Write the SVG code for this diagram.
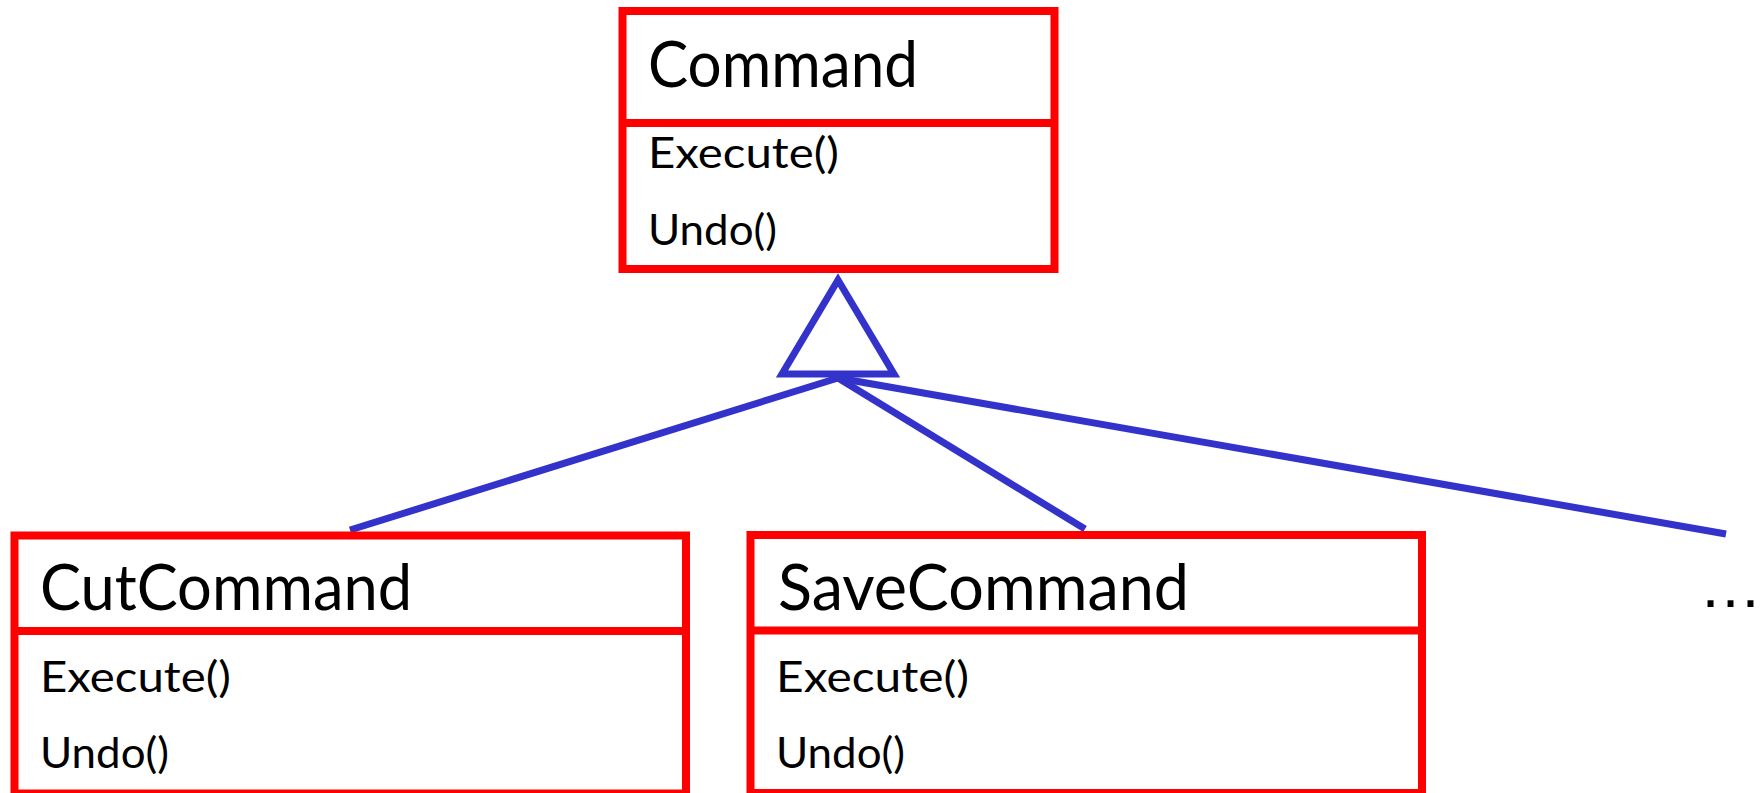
<svg xmlns="http://www.w3.org/2000/svg" width="1762" height="793" viewBox="0 0 1762 793">
  <style>
    .box { fill: #FFFFFF; stroke: #FF0000; stroke-width: 8; }
    .div { stroke: #FF0000; stroke-width: 8; }
    .title { font-family: "Lato", "DejaVu Sans", sans-serif; font-size: 64px; fill: #000000; }
    .op { font-family: "Lato", "DejaVu Sans", sans-serif; font-size: 43px; fill: #000000; }
    .link { stroke: #3333CC; stroke-width: 7; fill: none; }
    .gen { stroke: #3333CC; stroke-width: 7; fill: #FFFFFF; stroke-linejoin: miter; }
  </style>

  <rect width="1762" height="793" fill="#FFFFFF"/>

  <!-- inheritance connectors -->
  <g id="connectors">
    <line class="link" x1="838" y1="378" x2="350" y2="530"/>
    <line class="link" x1="838" y1="378" x2="1085" y2="529"/>
    <line class="link" x1="838" y1="378" x2="1726" y2="534"/>
    <polygon class="gen" points="838,280 782,374 894,374"/>
  </g>

  <!-- abstract base class -->
  <g id="command">
    <rect class="box" x="622.5" y="11" width="432" height="258"/>
    <line class="div" x1="622.5" y1="123" x2="1054.5" y2="123"/>
    <text class="title" x="648" y="87" textLength="270" lengthAdjust="spacingAndGlyphs">Command</text>
    <text class="op" x="648" y="168" textLength="191" lengthAdjust="spacingAndGlyphs">Execute()</text>
    <text class="op" x="648" y="245" textLength="129" lengthAdjust="spacingAndGlyphs">Undo()</text>
  </g>

  <g id="cut-command">
    <rect class="box" x="14.5" y="535.5" width="671.5" height="258"/>
    <line class="div" x1="14.5" y1="631" x2="686" y2="631"/>
    <text class="title" x="40" y="610" textLength="372" lengthAdjust="spacingAndGlyphs">CutCommand</text>
    <text class="op" x="40" y="692" textLength="191" lengthAdjust="spacingAndGlyphs">Execute()</text>
    <text class="op" x="40" y="768" textLength="129" lengthAdjust="spacingAndGlyphs">Undo()</text>
  </g>

  <g id="save-command">
    <rect class="box" x="750.5" y="535" width="671.5" height="258"/>
    <line class="div" x1="750.5" y1="630.5" x2="1422" y2="630.5"/>
    <text class="title" x="778" y="610" textLength="411" lengthAdjust="spacingAndGlyphs">SaveCommand</text>
    <text class="op" x="776" y="692" textLength="193" lengthAdjust="spacingAndGlyphs">Execute()</text>
    <text class="op" x="776" y="768" textLength="129" lengthAdjust="spacingAndGlyphs">Undo()</text>
  </g>

  <g id="more">
    <text x="1699" y="607" font-family="Liberation Sans, sans-serif" font-size="63px" fill="#000000">…</text>
  </g>
</svg>
